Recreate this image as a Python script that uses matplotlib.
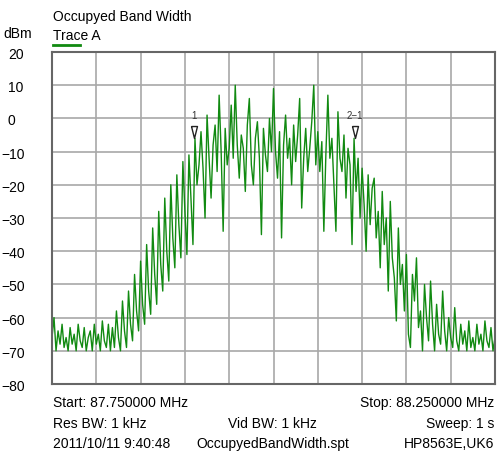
import numpy as np
import matplotlib
matplotlib.use("Agg")
import matplotlib.pyplot as plt
import matplotlib.transforms as mtransforms

plt.rcParams['font.family'] = ['Liberation Sans', 'DejaVu Sans']

# sweep settings (MHz)
f_start = 87.75
f_stop = 88.25

# trace A levels in dBm left to right
level = [
    -66, -60, -70, -64, -68, -62, -69, -66, -70, -63,
    -68, -65, -70, -62, -67, -69, -63, -70, -66, -64,
    -70, -62, -68, -65, -70, -61, -67, -69, -62, -70,
    -63, -69, -58, -66, -70, -55, -64, -69, -52, -62,
    -67, -47, -58, -64, -43, -56, -62, -38, -52, -59,
    -33, -47, -56, -28, -44, -52, -24, -40, -49, -20,
    -36, -45, -17, -32, -42, -13, -28, -41, -11, -24,
    -38, -6, -20, -14, -4, -15, -30, 1, -12, -24,
    -8, -2, -16, 7, -10, -34, -3, -14, -9, 4,
    -12, 10, -8, -18, -5, -9, -22, -2, 6, -14,
    -20, -6, -1, -12, -35, -3, -11, -16, 0, -10,
    9, -10, -18, -4, -36, -8, 1, -12, -6, -20,
    -2, -13, -5, 6, -27, -12, -3, -16, -9, -1,
    10, -14, -4, -16, -7, -34, -11, 7, -12, -6,
    -20, -34, 2, -12, -16, -5, -24, -9, -14, -38,
    -6, -22, -12, -30, -15, -26, -40, -17, -32, -21,
    -18, -36, -28, -45, -22, -38, -30, -52, -25, -42,
    -48, -61, -33, -50, -44, -58, -41, -65, -69, -47,
    -55, -42, -63, -58, -70, -50, -60, -67, -49, -62,
    -70, -56, -65, -68, -52, -64, -70, -60, -66, -69,
    -57, -67, -70, -62, -68, -64, -70, -61, -69, -66,
    -70, -62, -68, -65, -70, -61, -67, -69, -63, -70, -66,
]
freq = np.linspace(f_start, f_stop, len(level))

# markers: frequency (MHz), level (dBm), label
mk_freq = [87.9106, 88.0916]
mk_level = [-4.2, -4.2]
mk_label = ["1", "2\u22121"]

yticks = list(range(-80, 21, 10))

fig = plt.figure(figsize=(5.04, 4.52), dpi=100)
ax = fig.add_axes([52 / 504, 67 / 452, 443 / 504, 332 / 452])

ax.plot(freq, level, color="#118a11", lw=1.0)

ax.set_xlim(f_start, f_stop)
ax.set_ylim(-80, 20)
ax.set_xticks(np.linspace(f_start, f_stop, 11))
ax.set_yticks(yticks)
ax.tick_params(length=0, labelbottom=False, labelleft=False)
ax.grid(True, color="#a8a8a8", lw=1.2)
ax.set_axisbelow(True)
for s in ax.spines.values():
    s.set_color("#666666")
    s.set_linewidth(1.5)

# marker triangles
tri = [(-0.5, 1), (0.5, 1), (0, -1), (-0.5, 1)]
ax.plot(mk_freq, mk_level, ls="none", marker=tri, markersize=8.6,
        markerfacecolor="white", markeredgecolor="#222222", markeredgewidth=1.0)
for f, lv, lb in zip(mk_freq, mk_level, mk_label):
    ax.text(f, lv + 5.3, lb, ha="center", va="center", fontsize=7, color="#333333")

# y labels
tr = mtransforms.blended_transform_factory(fig.transFigure, ax.transData)
for v in yticks:
    x0 = 1 / 504 if v < 0 else 8 / 504
    ax.text(x0, v - 0.6, str(v).replace("-", "\u2212"), transform=tr,
            ha="left", va="center", fontsize=10, clip_on=False)

fig.text(3 / 504, 1 - 34 / 452, "dBm", ha="left", va="center", fontsize=10)
fig.text(53 / 504, 1 - 17 / 452, "Occupyed Band Width", ha="left", va="center", fontsize=10)
fig.text(53 / 504, 1 - 36 / 452, "Trace A", ha="left", va="center", fontsize=10)
fig.add_artist(plt.Line2D([53 / 504, 80 / 504], [1 - 46 / 452, 1 - 46 / 452],
                          color="#118a11", lw=2))

rows = [1 - 403 / 452, 1 - 424 / 452, 1 - 444 / 452]
fig.text(53 / 504, rows[0], "Start: 87.750000 MHz", ha="left", va="center", fontsize=10)
fig.text(494 / 504, rows[0], "Stop: 88.250000 MHz", ha="right", va="center", fontsize=10)
fig.text(53 / 504, rows[1], "Res BW: 1 kHz", ha="left", va="center", fontsize=10)
fig.text(228 / 504, rows[1], "Vid BW: 1 kHz", ha="left", va="center", fontsize=10)
fig.text(494 / 504, rows[1], "Sweep: 1 s", ha="right", va="center", fontsize=10)
fig.text(53 / 504, rows[2], "2011/10/11 9:40:48", ha="left", va="center", fontsize=10)
fig.text(196 / 504, rows[2], "OccupyedBandWidth.spt", ha="left", va="center", fontsize=10)
fig.text(494 / 504, rows[2], "HP8563E,UK6", ha="right", va="center", fontsize=10)

fig.savefig("out.png", dpi=100)
